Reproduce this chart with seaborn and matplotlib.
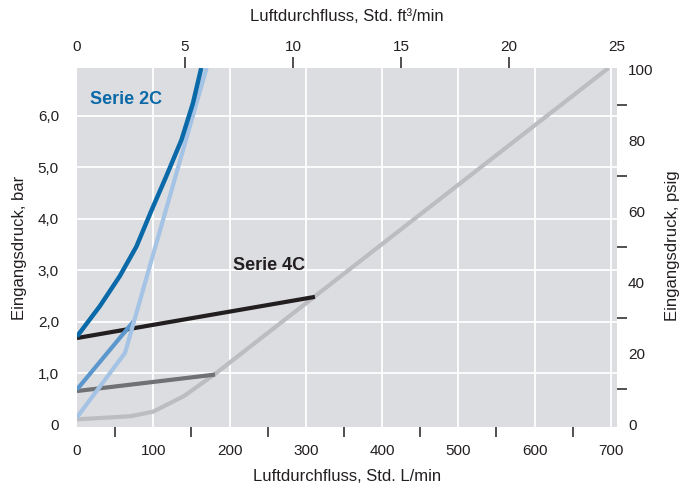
import seaborn as sns
import matplotlib.pyplot as plt
import numpy as np

# Serie 2C (blaue Kurven): Luftdurchfluss L/min -> Eingangsdruck bar
s2c_dark_x = [0, 30, 56, 78, 98, 117, 137, 152, 163]
s2c_dark_y = [1.71, 2.30, 2.88, 3.46, 4.17, 4.82, 5.53, 6.24, 6.93]
s2c_mid_x = [0, 74]
s2c_mid_y = [0.68, 2.0]
s2c_light_x = [0, 63, 94, 170]
s2c_light_y = [0.14, 1.39, 3.0, 6.93]

# Serie 4C (schwarz / graue Kurven)
s4c_black_x = [0, 312]
s4c_black_y = [1.68, 2.48]
s4c_dark_x = [0, 181]
s4c_dark_y = [0.65, 0.97]
s4c_light_x = [0, 70, 100, 140, 180, 697]
s4c_light_y = [0.10, 0.16, 0.25, 0.55, 0.97, 6.93]

bar_labels = [0, 1, 2, 3, 4, 5, 6]
lmin_labels = [0, 100, 200, 300, 400, 500, 600, 700]
cfm_labels = [0, 5, 10, 15, 20, 25]
psig_labels = [0, 20, 40, 60, 80, 100]

L_PER_CFM = 28.3168
PSI_PER_BAR = 14.5038
X_MAX = 708

sns.set_theme(style="white")
plt.rcParams['font.family'] = ['Liberation Sans', 'DejaVu Sans']

fig = plt.figure(figsize=(6.81, 4.92), dpi=100)
ax = fig.add_axes([0.113, 0.132, 0.793, 0.730])
ax.set_facecolor("#dcdde0")

# Zeichenreihenfolge: graue zuerst, blaue oben
lines = [
    (s4c_light_x, s4c_light_y, "#bcbdc0", 3.0),
    (s4c_dark_x, s4c_dark_y, "#707174", 3.0),
    (s4c_black_x, s4c_black_y, "#231f20", 3.0),
    (s2c_mid_x, s2c_mid_y, "#5b97cc", 3.0),
    (s2c_light_x, s2c_light_y, "#a4c3e5", 3.0),
    (s2c_dark_x, s2c_dark_y, "#0a69a8", 3.2),
]
for xs, ys, col, lw in lines:
    sns.lineplot(x=xs, y=ys, ax=ax, color=col, linewidth=lw, sort=False,
                 estimator=None, solid_capstyle="butt")

ax.text(17, 6.32, "Serie 2C", color="#0a69a8", fontsize=13, fontweight="bold", va="center")
ax.text(204, 3.09, "Serie 4C", color="#231f20", fontsize=13, fontweight="bold", va="center")

ax.set_xlim(0, X_MAX)
ax.set_ylim(-0.05, 6.93)

for s in ax.spines.values():
    s.set_visible(False)

# untere und linke Achse
ax.set_xticks(lmin_labels)
ax.set_xticks(np.arange(50, 701, 50), minor=True)
ax.set_yticks(bar_labels)
ax.set_yticklabels(["0"] + [f"{v},0" for v in bar_labels[1:]])
ax.set_yticks(bar_labels[1:], minor=True)
ax.tick_params(axis="both", which="major", length=0, labelsize=11, colors="#231f20")
ax.tick_params(axis="x", which="major", pad=12)
ax.tick_params(axis="y", which="major", pad=13)
ax.tick_params(axis="both", which="minor", direction="out", length=7, width=1.1,
               color="#231f20", bottom=True, left=True)
ax.grid(True, which="major", color="white", linewidth=1.3)
ax.xaxis.get_gridlines()[0].set_visible(False)
ax.yaxis.get_gridlines()[0].set_visible(False)
ax.set_xlabel("Luftdurchfluss, Std. L/min", fontsize=12, color="#231f20", labelpad=8)
ax.set_ylabel("Eingangsdruck, bar", fontsize=12, color="#231f20", labelpad=8)

# obere Achse (ft³/min)
top = ax.twiny()
top.set_xlim(0, X_MAX / L_PER_CFM)
top.grid(False)
top.patch.set_visible(False)
for s in top.spines.values():
    s.set_visible(False)
top.set_xticks(cfm_labels)
top.set_xticks([5, 10, 15, 20], minor=True)
top.xaxis.remove_overlapping_locs = False
top.tick_params(axis="x", which="major", length=0, labelsize=11, pad=10, colors="#231f20",
                top=True, labeltop=True, bottom=False, labelbottom=False)
top.tick_params(axis="x", which="minor", direction="out", length=8, width=1.1, color="#231f20",
                top=True, bottom=False)
top.set_xlabel("Luftdurchfluss, Std. ft³/min", fontsize=12, color="#231f20", labelpad=14)

# rechte Achse (psig)
right = ax.secondary_yaxis("right", functions=(lambda y: y * PSI_PER_BAR, lambda y: y / PSI_PER_BAR))
right.set_yticks(psig_labels)
right.set_yticks(np.arange(10, 91, 10), minor=True)
right.tick_params(which="major", length=0, labelsize=11, pad=8, colors="#231f20")
right.tick_params(which="minor", direction="out", length=7, width=1.1, color="#231f20", right=True)
for s in right.spines.values():
    s.set_visible(False)
fig.text(672 / 681, 0.5, "Eingangsdruck, psig", rotation=90, ha="center", va="center",
         fontsize=12, color="#231f20")

fig.savefig("out.png", dpi=100)
